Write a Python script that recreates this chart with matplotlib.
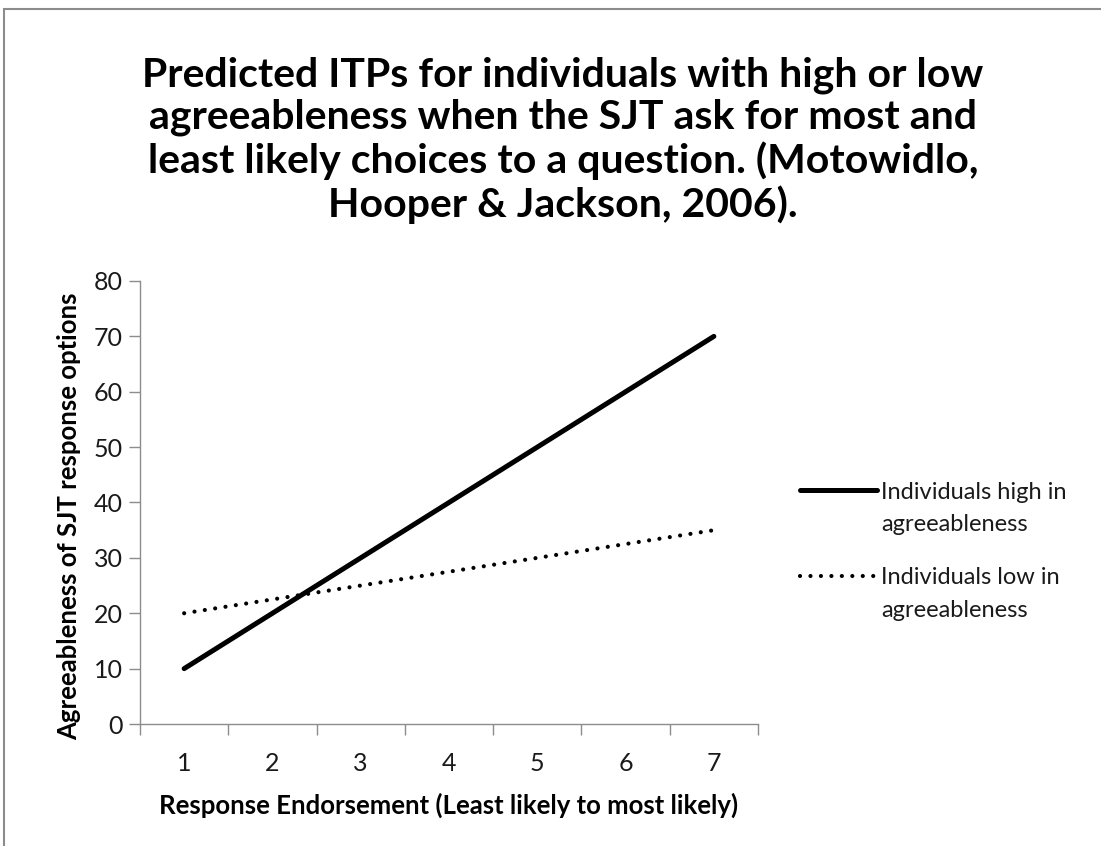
import matplotlib
matplotlib.use("Agg")
import matplotlib.pyplot as plt
from matplotlib.patches import Rectangle
from matplotlib.lines import Line2D

categories = [1, 2, 3, 4, 5, 6, 7]
high_agree = [10, 20, 30, 40, 50, 60, 70]
low_agree = [20, 22.5, 25, 27.5, 30, 32.5, 35]
y_ticks = [0, 10, 20, 30, 40, 50, 60, 70, 80]
high_label = ["Individuals high in", "agreeableness"]
low_label = ["Individuals low in", "agreeableness"]

title = ("Predicted ITPs for individuals with high or low\n"
         "agreeableness when the SJT ask for most and\n"
         "least likely choices to a question. (Motowidlo,\n"
         "Hooper & Jackson, 2006).")

plt.rcParams['font.family'] = ['Lato', 'DejaVu Sans']

W, H = 1101, 846
fig = plt.figure(figsize=(W / 100, H / 100), dpi=100)
fig.patch.set_facecolor('white')

# outer chart border
fig.add_artist(Rectangle((4 / W, -0.01), 1.02, 1 - 9 / H + 0.01, transform=fig.transFigure,
                         fill=False, edgecolor='#8c8c8c', linewidth=1.5))

ax = fig.add_axes([140 / W, 1 - 724 / H, 618 / W, 443 / H])
l_high, = ax.plot(categories, high_agree, color='black', linewidth=3.6,
                  solid_capstyle='round')
l_low, = ax.plot(categories, low_agree, color='black', linewidth=3.0,
                 linestyle=(0, (0.01, 2.5)), dash_capstyle='round')

ax.set_xlim(0.5, 7.5)
ax.set_ylim(0, 80)
ax.set_yticks(y_ticks)
ax.set_xticks(categories)
ax.set_xticks([c - 0.5 for c in categories] + [7.5], minor=True)
ax.tick_params(axis='x', which='major', length=0, pad=20, labelsize=18, colors='#1a1a1a')
ax.tick_params(axis='x', which='minor', length=8, color='#8c8c8c', width=1)
ax.tick_params(axis='y', length=8, color='#8c8c8c', width=1, labelsize=18, pad=4.5,
               labelcolor='#1a1a1a')
for s in ['top', 'right']:
    ax.spines[s].set_visible(False)
for s in ['left', 'bottom']:
    ax.spines[s].set_color('#8c8c8c')
    ax.spines[s].set_linewidth(1)

ax.set_xlabel('Response Endorsement (Least likely to most likely)', fontsize=18.5,
              fontweight='bold', labelpad=13)
ax.set_ylabel('Agreeableness of SJT response options', fontsize=18.5,
              fontweight='bold')
ax.yaxis.set_label_coords(-0.095, 0.47)

fig.text(563 / W, 1 - 56 / H, title, ha='center', va='top', fontsize=29.5,
         fontweight='bold', linespacing=1.17)

blank = Line2D([], [], linestyle='none')
legkw = dict(frameon=False, fontsize=17, handlelength=3.26, handletextpad=0.17,
             labelspacing=0.5, borderpad=0, borderaxespad=0, labelcolor='#1a1a1a',
             loc='center left', bbox_transform=fig.transFigure)
leg1 = ax.legend([l_high, blank], high_label,
                 bbox_to_anchor=(800 / W, 1 - 508.5 / H), **legkw)
ax.add_artist(leg1)
leg2 = ax.legend([l_low, blank], low_label,
                 bbox_to_anchor=(800 / W, 1 - 594 / H), **legkw)

fig.savefig('out.png', dpi=100, facecolor='white')
